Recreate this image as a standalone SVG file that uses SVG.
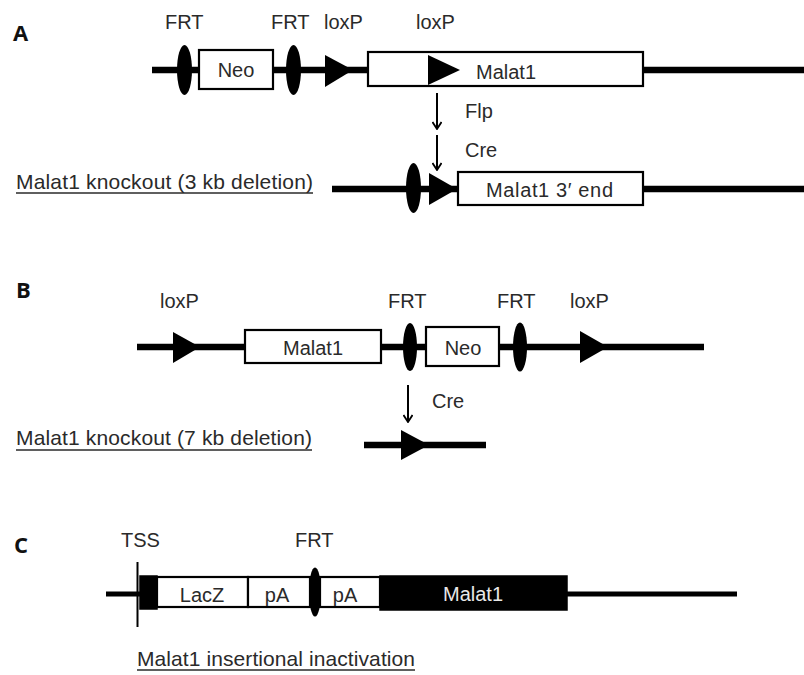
<svg xmlns="http://www.w3.org/2000/svg" width="804" height="675" viewBox="0 0 804 675">
<defs>
<style>
text{font-family:"Liberation Sans",Arial,sans-serif;fill:#2a2a2a;font-size:20px}
.panel{font-family:"Open Sans","Liberation Sans",sans-serif;font-weight:bold;font-size:22px;fill:#111}
.cap{font-size:21px}
.mid{text-anchor:middle}
.dna{stroke:#000;stroke-width:6.5;fill:none}
.box{fill:#fff;stroke:#000;stroke-width:2.2}
.blk{fill:#000;stroke:#000;stroke-width:1.5}
.ul{stroke:#2a2a2a;stroke-width:1.5}
.arr{stroke:#000;stroke-width:2;fill:none}
</style>
<marker id="ah" viewBox="0 0 10 10" refX="9" refY="5" markerWidth="10" markerHeight="10" markerUnits="userSpaceOnUse" orient="auto">
<path d="M2,0.5 L9,5 L2,9.5" fill="none" stroke="#000" stroke-width="1.8"/>
</marker>
</defs>
<rect width="804" height="675" fill="#fff"/>

<!-- Panel A -->
<text class="panel" x="13" y="41">A</text>
<g id="A-labels">
<text x="165" y="29">FRT</text>
<text x="271" y="29">FRT</text>
<text x="324" y="29">loxP</text>
<text x="416" y="29">loxP</text>
</g>
<g id="A-construct">
<line class="dna" x1="152" y1="70" x2="804" y2="70"/>
<ellipse id="A-frt1" cx="184.5" cy="70" rx="7.5" ry="25" fill="#000"/>
<g id="A-neo"><rect class="box" x="199" y="50" width="74" height="39"/><text class="mid" x="236" y="77">Neo</text></g>
<ellipse id="A-frt2" cx="293.5" cy="70" rx="7.5" ry="25" fill="#000"/>
<polygon id="A-loxp1" points="325,55 353,70 325,87" fill="#000"/>
<g id="A-malat1"><rect class="box" x="368" y="52" width="275" height="34"/>
<polygon points="428,55 460,70 428,85" fill="#000"/>
<text x="476" y="79">Malat1</text></g>
</g>
<g id="A-connectors">
<line class="arr" x1="437" y1="93" x2="437" y2="129" marker-end="url(#ah)"/>
<line class="arr" x1="437" y1="135" x2="437" y2="170" marker-end="url(#ah)"/>
</g>
<text x="465" y="118">Flp</text>
<text x="465" y="157">Cre</text>
<g id="A-knockout">
<text class="cap" x="16" y="189" textLength="297" lengthAdjust="spacing">Malat1 knockout (3 kb deletion)</text>
<line class="ul" x1="16" y1="193" x2="313" y2="193"/>
<line class="dna" x1="332" y1="189" x2="804" y2="189"/>
<ellipse cx="413.5" cy="188" rx="7.5" ry="25" fill="#000"/>
<polygon points="429,173 457,189 429,205" fill="#000"/>
<rect class="box" x="458" y="172" width="185" height="33"/>
<text x="486" y="197" textLength="127" lengthAdjust="spacing">Malat1 3′ end</text>
</g>

<!-- Panel B -->
<text class="panel" x="16" y="298">B</text>
<g id="B-labels">
<text x="160" y="308">loxP</text>
<text x="388" y="308">FRT</text>
<text x="497" y="308">FRT</text>
<text x="570" y="308">loxP</text>
</g>
<g id="B-construct">
<line class="dna" x1="137" y1="347" x2="704" y2="347"/>
<polygon id="B-loxp1" points="173,332 200,347 173,363" fill="#000"/>
<g id="B-malat1"><rect class="box" x="245" y="330" width="136" height="33"/><text class="mid" x="313" y="355">Malat1</text></g>
<ellipse id="B-frt1" cx="410" cy="347" rx="7" ry="24" fill="#000"/>
<g id="B-neo"><rect class="box" x="426" y="327" width="73" height="39"/><text class="mid" x="463" y="355">Neo</text></g>
<ellipse id="B-frt2" cx="520" cy="347" rx="7" ry="24.5" fill="#000"/>
<polygon id="B-loxp2" points="580,331 608,347 580,363" fill="#000"/>
</g>
<g id="B-connectors">
<line class="arr" x1="408" y1="385" x2="408" y2="422" marker-end="url(#ah)"/>
</g>
<text x="432" y="408">Cre</text>
<g id="B-knockout">
<text class="cap" x="16" y="445" textLength="296" lengthAdjust="spacing">Malat1 knockout (7 kb deletion)</text>
<line class="ul" x1="16" y1="450" x2="312" y2="450"/>
<line class="dna" x1="364" y1="445" x2="486" y2="445"/>
<polygon points="401,430 429,445 401,460" fill="#000"/>
</g>

<!-- Panel C -->
<text class="panel" x="14" y="553">C</text>
<g id="C-labels">
<text x="121" y="547">TSS</text>
<text x="295" y="547">FRT</text>
</g>
<g id="C-construct">
<line x1="106" y1="594" x2="737" y2="594" stroke="#000" stroke-width="5"/>
<line id="C-tss" x1="137.5" y1="562" x2="137.5" y2="627" stroke="#000" stroke-width="2"/>
<rect class="blk" x="140" y="576" width="17" height="33"/>
<g id="C-lacz"><rect class="box" x="157" y="577" width="91" height="30"/><text class="mid" x="202" y="602">LacZ</text></g>
<g id="C-pa1"><rect class="box" x="248" y="577" width="62" height="30"/><text class="mid" x="277" y="602">pA</text></g>
<g id="C-pa2"><rect class="box" x="320" y="577" width="60" height="30"/><text class="mid" x="345" y="602">pA</text></g>
<ellipse id="C-frt" cx="315" cy="592" rx="6" ry="24.5" fill="#000"/>
<g id="C-malat1"><rect class="blk" x="380" y="576" width="187" height="34"/><text class="mid" x="473" y="601" style="fill:#e8e8e8">Malat1</text></g>
</g>
<g id="C-caption">
<text class="cap" x="137" y="666" textLength="278" lengthAdjust="spacing">Malat1 insertional inactivation</text>
<line class="ul" x1="137" y1="670" x2="415" y2="670"/>
</g>
</svg>
